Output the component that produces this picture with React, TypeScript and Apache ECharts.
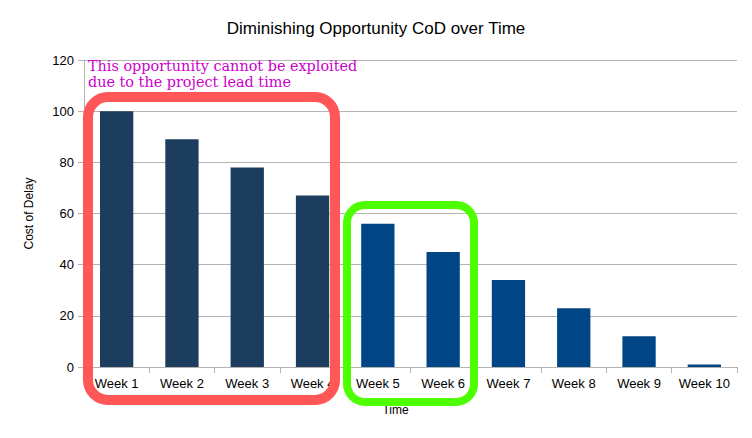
import React, { useEffect, useRef } from "react";
import * as echarts from "echarts";

const categories = ["Week 1", "Week 2", "Week 3", "Week 4", "Week 5", "Week 6", "Week 7", "Week 8", "Week 9", "Week 10"];
const costOfDelay = [100, 89, 78, 67, 56, 45, 34, 23, 12, 1];
const barColors = ["#1c3d5e", "#1c3d5e", "#1c3d5e", "#1c3d5e", "#004586", "#004586", "#004586", "#004586", "#004586", "#004586"];

export default function App() {
  const ref = useRef<HTMLDivElement>(null);
  useEffect(() => {
    if (!ref.current) return;
    const chart = echarts.init(ref.current, null, { renderer: "svg" });
    chart.setOption({
      animation: false,
      backgroundColor: "#ffffff",
      title: {
        text: "Diminishing Opportunity CoD over Time",
        left: "center",
        top: 15,
        textStyle: { fontFamily: "Liberation Sans", fontSize: 17, fontWeight: "normal", color: "#000" },
      },
      grid: { left: 84, right: 15, top: 60, bottom: 71, containLabel: false },
      xAxis: {
        type: "category",
        data: categories,
        name: "Time",
        nameLocation: "middle",
        nameGap: 37,
        nameTextStyle: { fontFamily: "Liberation Sans", fontSize: 12, color: "#000", padding: [0, 30, 0, 0] },
        axisLine: { lineStyle: { color: "#b3b3b3" } },
        axisTick: { show: true, alignWithLabel: false, length: 6, lineStyle: { color: "#b3b3b3" } },
        axisLabel: { fontFamily: "Liberation Sans", fontSize: 13, color: "#000", margin: 10, interval: 0 },
      },
      yAxis: {
        type: "value",
        min: 0,
        max: 120,
        interval: 20,
        name: "Cost of Delay",
        nameLocation: "middle",
        nameGap: 49,
        nameTextStyle: { fontFamily: "Liberation Sans", fontSize: 12, color: "#000" },
        axisLine: { show: true, lineStyle: { color: "#b3b3b3" } },
        axisTick: { show: true, length: 6, lineStyle: { color: "#b3b3b3" } },
        axisLabel: { fontFamily: "Liberation Sans", fontSize: 13, color: "#000", margin: 10 },
        splitLine: { lineStyle: { color: "#b3b3b3" } },
      },
      series: [
        {
          type: "bar",
          barWidth: "51%",
          data: costOfDelay.map((v, i) => ({ value: v, itemStyle: { color: barColors[i] } })),
        },
      ],
      graphic: [
        {
          type: "text",
          left: 88,
          top: 58,
          z: 100,
          style: {
            text: "This opportunity cannot be exploited\ndue to the project lead time",
            fontFamily: "DejaVu Serif",
            fontSize: 14.4,
            lineHeight: 16,
            fill: "#cc00cc",
          },
        },
        {
          type: "rect",
          z: 100,
          shape: { x: 88, y: 97, width: 247, height: 303, r: 20 },
          style: { fill: "none", stroke: "#ff5757", lineWidth: 10 },
        },
        {
          type: "rect",
          z: 100,
          shape: { x: 347, y: 205, width: 127, height: 197, r: 18 },
          style: { fill: "none", stroke: "#4dff00", lineWidth: 8 },
        },
      ],
    });
    return () => chart.dispose();
  }, []);
  return <div ref={ref} style={{ width: 752, height: 438, position: "absolute", left: 0, top: 0 }} />;
}
